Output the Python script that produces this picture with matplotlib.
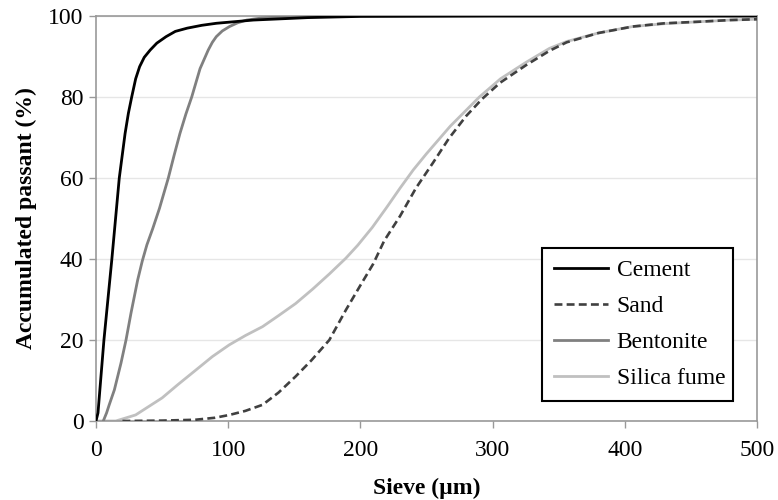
import matplotlib.pyplot as plt

# values
cement_x = [0, 1.5, 6, 12, 17.6, 22, 24.5, 27, 30, 33, 36.5, 41, 46, 53, 60, 69, 80, 91,
            105, 119, 160, 200, 300, 400, 500]
cement_y = [0, 2, 20, 40, 60, 71, 76, 80, 84.5, 87.5, 89.8, 91.6, 93.3, 94.9, 96.2, 97,
            97.7, 98.2, 98.6, 99, 99.6, 99.9, 100, 100, 100]

sand_x = [20, 50, 75, 90, 101, 113, 126, 138, 151, 163, 176.5, 189, 200, 209.7, 218, 230,
          242, 255, 267, 280, 292, 305.6, 325, 343, 356, 380, 406, 430, 457, 480, 500]
sand_y = [0, 0.1, 0.3, 0.8, 1.5, 2.5, 4, 7, 11, 15, 20, 27.4, 33.5, 38.8, 44.5, 50.6,
          57.5, 63.8, 69.8, 75.3, 79.5, 83.5, 87.8, 91.4, 93.5, 95.8, 97.4, 98.2, 98.6,
          99, 99.2]

bent_x = [5.5, 8, 10, 13.9, 18.9, 22.7, 26.5, 31.5, 35, 38.5, 42.9, 48, 54.7, 59, 63.5, 68,
          72.4, 78.7, 84.9, 88, 91, 95.5, 101, 107, 114, 125, 140, 200, 500]
bent_y = [0, 2, 4, 7.7, 14.3, 20, 26.7, 34.8, 39.5, 43.5, 47.5, 52.5, 60, 65.5, 71, 75.8,
          80, 87, 91.6, 93.5, 94.9, 96.3, 97.4, 98.3, 99, 99.5, 99.8, 100, 100]

silica_x = [0, 15, 30, 50, 62, 75.6, 88, 100.8, 113, 126, 138, 151, 164, 176.5, 189, 198,
            209, 220, 230, 240, 250, 268, 290, 306, 325, 343, 356, 380, 406, 430, 457,
            480, 500]
silica_y = [0, 0, 1.5, 5.7, 9, 12.6, 15.9, 18.8, 21.1, 23.3, 26, 29, 32.6, 36.3, 40.2, 43.4,
            47.8, 52.8, 57.5, 62, 66, 72.8, 80, 84.5, 88.5, 92, 93.7, 95.8, 97.4, 98.1,
            98.6, 99, 99.2]

plt.rcParams['font.family'] = ['Liberation Serif', 'DejaVu Serif']

fig, ax = plt.subplots(figsize=(7.78, 5), dpi=100)
fig.subplots_adjust(left=0.1234, right=0.973, top=0.968, bottom=0.158)

ax.plot(cement_x, cement_y, color='black', lw=2, label='Cement', zorder=5)
ax.plot(sand_x, sand_y, color='#404040', lw=1.9, ls=(0, (3, 1.6)), label='Sand', zorder=3)
ax.plot(bent_x, bent_y, color='#808080', lw=2, label='Bentonite', zorder=4)
ax.plot(silica_x, silica_y, color='#c0c0c0', lw=2, label='Silica fume', zorder=2)

ax.set_xlim(0, 500)
ax.set_ylim(0, 100)
ax.set_xticks([0, 100, 200, 300, 400, 500])
ax.set_yticks([0, 20, 40, 60, 80, 100])
ax.grid(axis='y', color='#e6e6e6', lw=1)
ax.set_axisbelow(True)
for s in ax.spines.values():
    s.set_color('#999999')
    s.set_linewidth(1.2)
ax.tick_params(direction='out', length=5, width=1, color='#999999', labelsize=17, pad=4)
ax.tick_params(axis='x', pad=9)

ax.set_xlabel('Sieve (µm)', fontsize=17, fontweight='bold', labelpad=12)
ax.set_ylabel('Accumulated passant (%)', fontsize=17, fontweight='bold', labelpad=8)

leg = ax.legend(loc='lower left', bbox_to_anchor=(0.675, 0.049, 0.289, 0.383), mode='expand',
                fontsize=17, handlelength=2.3, handletextpad=0.35, labelspacing=0.62,
                borderpad=0.5, borderaxespad=0, fancybox=False, framealpha=1,
                edgecolor='black')
leg.get_frame().set_linewidth(1.5)

plt.savefig('out.png')
